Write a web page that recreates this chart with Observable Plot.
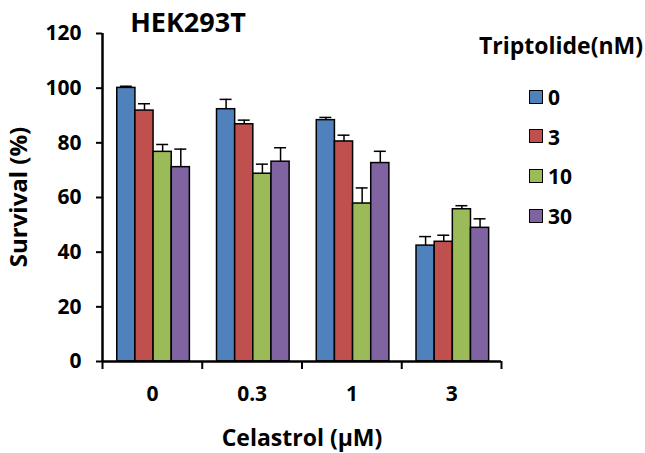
<!DOCTYPE html>
<html>
<head>
<meta charset="utf-8">
<script src="https://cdn.jsdelivr.net/npm/d3@7"></script>
<script src="https://cdn.jsdelivr.net/npm/@observablehq/plot@0.6"></script>
<style>
  body { margin: 0; background: #fff; }
  #wrap { position: relative; width: 645px; height: 453px; font-family: "Open Sans", sans-serif; font-weight: bold; color: #000; }
  .abs { position: absolute; white-space: nowrap; line-height: 1; }
  .sw { position: absolute; width: 12px; height: 12px; border: 1.5px solid #000; }
</style>
</head>
<body>
<div id="wrap"></div>
<script>
// ---- data ----
const groups = ["0", "0.3", "1", "3"];           // Celastrol (µM)
const series = ["0", "3", "10", "30"];           // Triptolide (nM)
const colors = ["#4F81BD", "#C0504D", "#9BBB59", "#8064A2"];
const mean0  = [100.1, 92.3, 88.3, 42.4];
const mean3  = [91.8, 86.8, 80.5, 43.8];
const mean10 = [76.7, 68.7, 57.8, 55.7];
const mean30 = [71.1, 73.1, 72.6, 48.9];
const err0   = [0.6, 3.6, 1.0, 3.3];
const err3   = [2.5, 1.5, 2.3, 2.4];
const err10  = [2.7, 3.5, 5.7, 1.3];
const err30  = [6.6, 5.1, 4.3, 3.3];
const yTicks = [0, 20, 40, 60, 80, 100, 120];

const means = [mean0, mean3, mean10, mean30];
const errs = [err0, err3, err10, err30];

// layout within each category slot (fractions of a category)
const start = 0.148, bw = 0.182, capHalf = 0.06;

const rows = [];
groups.forEach((g, gi) => {
  series.forEach((s, si) => {
    const x1 = gi + start + si * bw;
    rows.push({group: g, series: s, x1, x2: x1 + bw, xc: x1 + bw / 2,
               value: means[si][gi], top: means[si][gi] + errs[si][gi]});
  });
});

const chart = Plot.plot({
  width: 645,
  height: 453,
  marginLeft: 102,
  marginRight: 144,
  marginTop: 33,
  marginBottom: 92,
  style: {fontFamily: "'Open Sans', sans-serif", fontWeight: "bold", background: "white", overflow: "visible"},
  x: {type: "linear", domain: [0, groups.length], axis: null},
  y: {domain: [0, 120], axis: null},
  color: {domain: series, range: colors},
  marks: [
    Plot.ruleX(rows, {x: "xc", y1: "value", y2: "top", stroke: "#000", strokeWidth: 1.5}),
    Plot.ruleY(rows, {y: "top", x1: d => d.xc - capHalf, x2: d => d.xc + capHalf, stroke: "#000", strokeWidth: 1.5}),
    Plot.rect(rows, {x1: "x1", x2: "x2", y1: 0, y2: "value", fill: "series", stroke: "#000", strokeWidth: 1.5}),
    Plot.axisY({ticks: yTicks, tickSize: 6, tickPadding: 15, fontSize: 21, stroke: "#000", strokeWidth: 2, label: null}),
    Plot.axisX({ticks: d3.range(groups.length + 1), tickSize: 8, tickFormat: () => "", strokeWidth: 2, label: null}),
    Plot.axisX({ticks: groups.map((g, i) => i + 0.5), tickSize: 0, tickPadding: 25, fontSize: 21,
                tickFormat: v => groups[Math.floor(v)], label: null}),
    Plot.ruleY([0], {stroke: "#000", strokeWidth: 2.5}),
    Plot.ruleX([0], {y1: 0, y2: 120, stroke: "#000", strokeWidth: 2.5})
  ]
});

const wrap = document.getElementById("wrap");
wrap.appendChild(chart);

function addText(txt, css) {
  const d = document.createElement("div");
  d.className = "abs";
  d.textContent = txt;
  Object.assign(d.style, css);
  wrap.appendChild(d);
  return d;
}
addText("HEK293T", {left: "188px", top: "21px", fontSize: "27px", transform: "translate(-50%,-50%)"});
addText("Celastrol (μM)", {left: "302px", top: "437px", fontSize: "23px", transform: "translate(-50%,-50%)"});
addText("Survival (%)", {left: "18px", top: "197px", fontSize: "24px", transform: "translate(-50%,-50%) rotate(-90deg)"});
addText("Triptolide(nM)", {left: "561px", top: "45px", fontSize: "23px", transform: "translate(-50%,-50%)"});
series.forEach((s, i) => {
  const y = 97 + i * 39.7;
  const sw = document.createElement("div");
  sw.className = "sw";
  sw.style.left = "529px";
  sw.style.top = (y - 7.5) + "px";
  sw.style.background = colors[i];
  wrap.appendChild(sw);
  addText(s, {left: "548px", top: y + "px", fontSize: "21px", transform: "translateY(-50%)"});
});
</script>
</body>
</html>
